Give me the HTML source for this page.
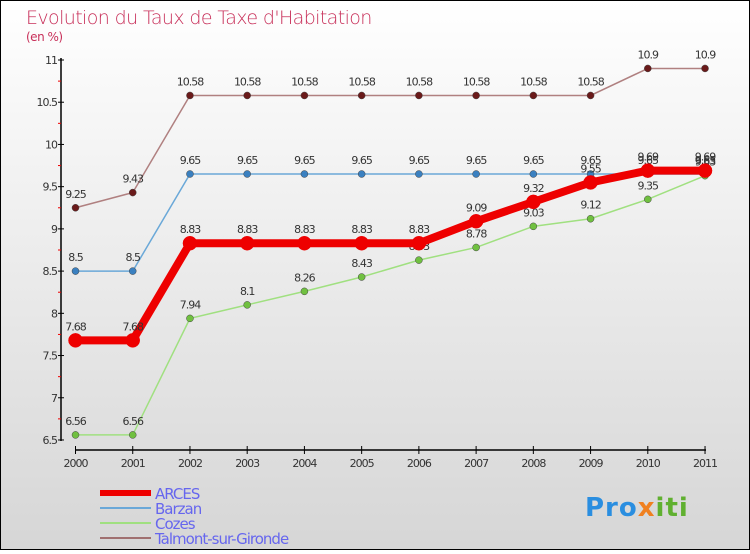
<!DOCTYPE html>
<html><head><meta charset="utf-8"><style>
body{margin:0;width:750px;height:550px;overflow:hidden;font-family:"DejaVu Sans","Liberation Sans",sans-serif}
</style></head><body>
<svg id="s" width="750" height="550" xmlns="http://www.w3.org/2000/svg">
<defs><linearGradient id="bg" x1="0" y1="0" x2="0" y2="1"><stop offset="0" stop-color="#ffffff"/><stop offset="1" stop-color="#d6d6d6"/></linearGradient></defs>
<rect x="0.5" y="0.5" width="749" height="549" fill="url(#bg)" stroke="#000" stroke-width="1"/>
<text x="26" y="24" font-size="19" fill="#c8305a" font-family="DejaVu Sans,sans-serif" font-weight="200" letter-spacing="-0.6">Evolution du Taux de Taxe d'Habitation</text>
<text x="26" y="41" font-size="12" fill="#c8305a" letter-spacing="-0.5">(en %)</text>
<g id="g"></g>
<text x="585" y="516" font-size="26" font-weight="bold" fill="#2a8ee0" letter-spacing="1">Pro<tspan fill="#f08020">x</tspan><tspan fill="#60b030">iti</tspan></text>
</svg>
<script>
const g=document.getElementById('g');let h='';
const X=i=>75.5+i*57.23, Y=v=>60+(11-v)*84.44;
h+='<line x1="61" y1="58" x2="61" y2="441" stroke="#000" stroke-width="1.5"/>';
for(let v=6.5;v<=11.01;v+=0.5){const y=Y(v);h+=`<line x1="58" y1="${y}" x2="64" y2="${y}" stroke="#000"/><text x="57" y="${y+4}" font-size="11" fill="#333" text-anchor="end" letter-spacing="-1">${+v.toFixed(1)}</text>`;
 if(v<11)h+=`<line x1="58" y1="${Y(v+0.25)}" x2="61" y2="${Y(v+0.25)}" stroke="#e00"/>`;}
h+='<line x1="75" y1="450" x2="706" y2="450" stroke="#000" stroke-width="1.5"/>';
for(let i=0;i<12;i++){h+=`<line x1="${X(i)}" y1="446" x2="${X(i)}" y2="454" stroke="#000"/><text x="${X(i)}" y="467" font-size="11" fill="#333" text-anchor="middle" letter-spacing="-1">${2000+i}</text>`;}
const S=[
['#b08080','#6a1a1a',1.5,3.5,[9.25,9.43,10.58,10.58,10.58,10.58,10.58,10.58,10.58,10.58,10.9,10.9]],
['#6aa8d8','#3a80c0',1.5,3.5,[8.5,8.5,9.65,9.65,9.65,9.65,9.65,9.65,9.65,9.65,9.65,9.65]],
['#a0e080','#70c040',1.5,3.5,[6.56,6.56,7.94,8.1,8.26,8.43,8.63,8.78,9.03,9.12,9.35,9.63]],
['#ee0000','#ee0000',8,7,[7.68,7.68,8.83,8.83,8.83,8.83,8.83,9.09,9.32,9.55,9.69,9.69]]];
for(const [lc,dc,w,r,d] of S){h+=`<polyline fill="none" stroke="${lc}" stroke-width="${w}" points="${d.map((v,i)=>X(i)+','+Y(v)).join(' ')}"/>`;
 d.forEach((v,i)=>{h+=`<circle cx="${X(i)}" cy="${Y(v)}" r="${r}" fill="${dc}" stroke="${w>2?'#ee0000':'#444'}" stroke-width="0.5"/><text x="${X(i)}" y="${Y(v)-10}" font-size="11" fill="#333" text-anchor="middle" letter-spacing="-1">${v}</text>`;});}
const L=[['ARCES','#ee0000',6],['Barzan','#6aa8d8',2],['Cozes','#a0e080',2],['Talmont-sur-Gironde','#a07070',2]];
L.forEach((l,i)=>{const y=493+i*15;h+=`<line x1="100" y1="${y}" x2="151" y2="${y}" stroke="${l[1]}" stroke-width="${l[2]}"/><text x="155" y="${y+6}" font-size="15" fill="#6666ee" letter-spacing="-1">${l[0]}</text>`;});
g.innerHTML=h;
</script>
</body></html>
